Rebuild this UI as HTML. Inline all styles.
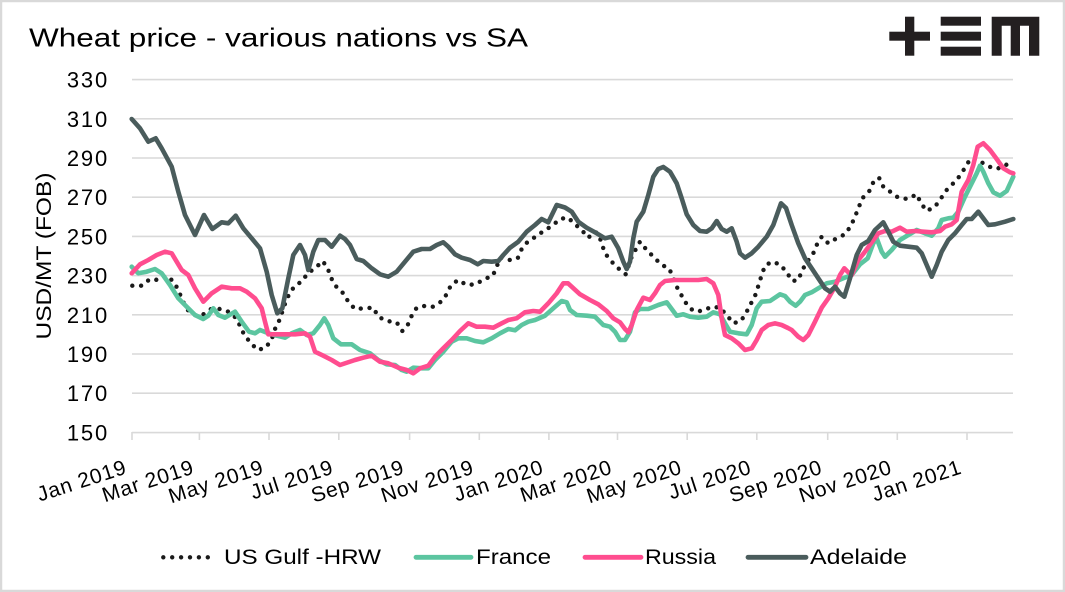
<!DOCTYPE html>
<html>
<head>
<meta charset="utf-8">
<style>
  html, body { margin: 0; padding: 0; background: #fff; }
  svg { display: block; }
  text { font-family: "Liberation Sans", "DejaVu Sans", sans-serif; fill: #000; }
</style>
</head>
<body>
<svg width="1065" height="592" viewBox="0 0 1065 592" xmlns="http://www.w3.org/2000/svg">
  <rect x="1" y="1" width="1063" height="590" fill="#fff" stroke="#d9d9d9" stroke-width="2.5"/>

  <!-- Title -->
  <text x="29" y="46.5" font-size="26" textLength="499" lengthAdjust="spacingAndGlyphs">Wheat price - various nations vs SA</text>

  <!-- Logo -->
  <g fill="#231f20">
    <rect x="905" y="16.7" width="9.3" height="39"/>
    <rect x="889.3" y="31.7" width="40.7" height="9"/>
    <rect x="940.7" y="16.7" width="40.3" height="9"/>
    <rect x="940.7" y="31.7" width="40.3" height="9"/>
    <rect x="940.7" y="46.7" width="40.3" height="9"/>
    <path d="M991.7 16.7 H1039.3 V55.7 H1029 V25.7 H1020 V55.7 H1010.7 V25.7 H1001.7 V55.7 H991.7 Z"/>
  </g>

  <!-- Gridlines -->
  <g stroke="#d9d9d9" stroke-width="1.6">
    <line x1="132" y1="79.6" x2="1013" y2="79.6"/>
    <line x1="132" y1="118.8" x2="1013" y2="118.8"/>
    <line x1="132" y1="158" x2="1013" y2="158"/>
    <line x1="132" y1="197.2" x2="1013" y2="197.2"/>
    <line x1="132" y1="236.4" x2="1013" y2="236.4"/>
    <line x1="132" y1="275.6" x2="1013" y2="275.6"/>
    <line x1="132" y1="314.8" x2="1013" y2="314.8"/>
    <line x1="132" y1="354" x2="1013" y2="354"/>
    <line x1="132" y1="393.2" x2="1013" y2="393.2"/>
    <line x1="132" y1="432.6" x2="1013" y2="432.6"/>
    <!-- ticks -->
    <line x1="132" y1="432" x2="132" y2="440"/>
    <line x1="199.4" y1="432" x2="199.4" y2="440"/>
    <line x1="269" y1="432" x2="269" y2="440"/>
    <line x1="338.8" y1="432" x2="338.8" y2="440"/>
    <line x1="409.6" y1="432" x2="409.6" y2="440"/>
    <line x1="479.3" y1="432" x2="479.3" y2="440"/>
    <line x1="548.9" y1="432" x2="548.9" y2="440"/>
    <line x1="617.5" y1="432" x2="617.5" y2="440"/>
    <line x1="687.2" y1="432" x2="687.2" y2="440"/>
    <line x1="756.8" y1="432" x2="756.8" y2="440"/>
    <line x1="827.7" y1="432" x2="827.7" y2="440"/>
    <line x1="897.3" y1="432" x2="897.3" y2="440"/>
    <line x1="967" y1="432" x2="967" y2="440"/>
  </g>

  <!-- Y labels -->
  <g font-size="22" text-anchor="end" letter-spacing="1.8">
    <text x="109" y="87.6">330</text>
    <text x="109" y="126.8">310</text>
    <text x="109" y="166">290</text>
    <text x="109" y="205.2">270</text>
    <text x="109" y="244.4">250</text>
    <text x="109" y="283.6">230</text>
    <text x="109" y="322.8">210</text>
    <text x="109" y="362">190</text>
    <text x="109" y="401.2">170</text>
    <text x="109" y="440.6">150</text>
  </g>

  <!-- Y axis title -->
  <text transform="translate(51,256) rotate(-90)" x="0" y="0" font-size="21" text-anchor="middle" textLength="167" lengthAdjust="spacingAndGlyphs">USD/MT (FOB)</text>

  <!-- X labels -->
  <g font-size="21" text-anchor="end" letter-spacing="0.8">
    <text x="128" y="473" transform="rotate(-18 128 473)">Jan 2019</text>
    <text x="195.4" y="473" transform="rotate(-18 195.4 473)">Mar 2019</text>
    <text x="265" y="473" transform="rotate(-18 265 473)">May 2019</text>
    <text x="334.8" y="473" transform="rotate(-18 334.8 473)">Jul 2019</text>
    <text x="405.6" y="473" transform="rotate(-18 405.6 473)">Sep 2019</text>
    <text x="475.3" y="473" transform="rotate(-18 475.3 473)">Nov 2019</text>
    <text x="544.9" y="473" transform="rotate(-18 544.9 473)">Jan 2020</text>
    <text x="613.5" y="473" transform="rotate(-18 613.5 473)">Mar 2020</text>
    <text x="683.2" y="473" transform="rotate(-18 683.2 473)">May 2020</text>
    <text x="752.8" y="473" transform="rotate(-18 752.8 473)">Jul 2020</text>
    <text x="823.7" y="473" transform="rotate(-18 823.7 473)">Sep 2020</text>
    <text x="893.3" y="473" transform="rotate(-18 893.3 473)">Nov 2020</text>
    <text x="963" y="473" transform="rotate(-18 963 473)">Jan 2021</text>
  </g>

  <!-- US Gulf HRW (dotted) -->
  <polyline fill="none" stroke="#1a1a1a" stroke-width="4.4" stroke-linecap="round" stroke-linejoin="round" stroke-dasharray="0 8.8"
    points="132.3,285.7 141.7,285.7 150,279 158.3,280 166.7,275.7 174.3,282.3 179,291.7 182.3,300 186.7,309 193.3,315 202.3,315 211,309 220,309 228.3,311.7 235.7,317.7 240,325.7 244.3,335 251,343.3 257.7,350 265.7,347.7 271.7,339.3 275,329 279,321 282.3,311.7 285.7,301.7 290,292.3 295.7,285 301.7,281.7 307.7,273.3 315.7,267.7 322.7,261 327.7,268.3 331,277.7 335.7,286 343.3,293.3 348.3,301.7 355,309 364.3,308.3 373.3,307.7 378.3,316.7 386.7,321 396.7,322.3 402.3,331 407.7,325 411.7,315.7 416.7,307.7 424.3,306 432.3,307 441,301.7 446.7,294.3 451,285 458.3,280 466.7,285 475.7,284.3 484.3,279 492.7,276 496.7,266.7 500,257.7 509.3,260 517.7,258.3 521.7,249 527.7,241.7 535.7,236.7 544,230.7 552.3,225.7 560,219 568,217.5 575,224.3 581.7,230 588.3,237.7 594.3,232 598.3,233.3 605,253.3 611.7,261.7 618.3,268.3 625.7,274.3 631.7,256.7 640,241.7 646.7,250 654.3,257.7 661.7,265 669,268.3 673.3,277.7 676.7,286.7 681.7,295.7 686.7,304.3 693.3,311 702.3,311 711.7,306.7 720,307.7 726.7,315 733.3,323.3 741,321 746.7,311.7 755.7,294.3 761.7,275 765,265.7 771.7,261.7 780,264.3 786.7,272.3 792.3,281 798.3,280 802.3,270 807.7,261 813.3,253.3 816.7,245 821.7,236.7 828.3,243.3 836.7,238.3 845,234.3 851,225.7 855,216.7 862.3,198.3 869,191.7 873.3,182.3 879,177.7 883.3,186.7 891,192.3 898.3,197.7 907.7,199 916.7,194.3 921,203.3 926.7,211 935,206.7 941,198.3 946.7,190 953.3,183.3 960,175.7 965,167.7 970.7,158.3 978.3,160 986.7,165.7 995.7,169 1004.3,166.7 1012.3,159"/>

  <!-- France -->
  <polyline fill="none" stroke="#5cc5a0" stroke-width="4.6" stroke-linecap="round" stroke-linejoin="round"
    points="131.7,266.7 138.3,273.3 146.7,271.7 155,269 161.7,273.3 170,285 178.3,298.3 186.7,306.7 195,315 203.3,319 208.3,315.7 213.3,308.3 218.3,315 225,317.7 235,311.7 241.7,321.7 249,331.7 255,333.3 260,330 268.3,333.3 276.7,335.7 285,337.7 291.7,333.3 300,330 306.7,335 313.3,333.3 320,325 324.3,318.3 328.3,325 333.3,338.3 341,344.3 351.7,344.3 360,350 370,353.3 378.3,360 386.7,364.3 395,365 401.7,370 406.7,371.7 413.3,367.7 421.7,368.3 428.3,368.3 435,360 443.3,351.7 451.7,341.7 458.3,338.3 466.7,338.3 475,341 483.3,342.3 491.7,338.3 500,333.3 508.3,329 515,330.3 521.7,325 528.3,321.7 535,320 545,315.7 553.3,308.3 561.7,301 566.7,302.3 570,310 576.7,315 586.7,315.7 595,316.7 603.3,325 610,326.7 615,331.7 620,340 625,340 630,331.7 635,312.3 640,309 648.3,309 658.3,305 666.7,302.3 671.7,309 676.7,315.7 683.3,314.3 690,316.7 698.3,317.7 706.7,316.7 713.3,312.3 720,314.3 725,323.3 730,331.7 738.3,333.3 746.7,334.3 751.7,325 756.7,308.3 761.7,301.7 770,301 780,294.3 785,296 790,301.7 795.7,305.7 800,301.7 805,295 811.7,292.3 818.3,288.3 826.7,283.3 835,281.7 843.3,278.3 851.7,275 860,264.3 867.7,258.3 873.3,243.3 876.7,238.3 881.7,251.7 885,256.7 891.7,250 900,240 908.3,235 916.7,230 925,233.3 931.7,235.7 938.3,228.3 941.7,220 948.3,218.3 953.3,217.7 958.3,211.7 965,196.7 971.7,183.3 976.7,173.3 980,165.7 983.3,171.7 988.3,183.3 993.3,192.3 1000,195.7 1006.7,191 1013.3,176.7"/>

  <!-- Russia -->
  <polyline fill="none" stroke="#ff4d8f" stroke-width="4.6" stroke-linecap="round" stroke-linejoin="round"
    points="131.7,273.3 140,264.3 148.3,260 156.7,255 165,251.7 171.7,253.3 176.7,261.7 181.7,270 188.3,275 195,288.3 203.3,301.7 211.7,293.3 221.7,286.7 231.7,288.3 240,288.3 246.7,291.7 255,298.3 261.7,308.3 265,321.7 268.3,334.3 275,334.3 285,334.3 295,334.3 305,333.3 310,336.7 315,351.7 323.3,355.7 331.7,360 340,365 346,363 355,360 363.3,357.7 371.7,355.7 380,361.7 388.3,363.3 398.3,367.7 406.7,370 413.3,373.3 420,368.3 428.3,365.7 435,356.7 443.3,348.3 451.7,340 460,331 468.3,323.3 476.7,326.7 485,326.7 493.3,327.7 501.7,323.3 508.3,320 516.7,318.3 525,312.3 533.3,311 540,311.7 548.3,303.3 556.7,293.3 563.3,283.3 568,283.3 571.7,286.7 580,294.3 590,300 598.3,304.3 606.7,311 613.3,318.3 620,322.3 625,329 628.3,332.3 631.7,325 636.7,310 643.3,297.7 650,300 655,293.3 660,285 665,281 675,280 686.7,280 698.3,280 706.7,279 713.3,283.3 718.3,295 721.7,318.3 725,335 731.7,338.3 738.3,343.3 745,350 751.7,348.3 756.7,340 761.7,330 768.3,325 775,323.3 781.7,325 788,328 791.7,330 798.3,336.7 803.3,340 808.3,335 815,321.7 821.7,307.7 828.3,298.3 835,286.7 840,275 844.3,268.3 847.7,271.7 851.7,275 858.3,260 865,251.7 871.7,242.3 878.3,233.3 885,231 891.7,231.7 900,227.7 906.7,231.7 915,231 923.3,231.7 931.7,232.3 940,231 945,226.7 951.7,224.3 956.7,220 961.7,191.7 968.3,180 973.3,165 977.7,146.7 983.3,143.3 990,150 996.7,159 1003.3,168.3 1010,172.3 1013.3,173.3"/>

  <!-- Adelaide -->
  <polyline fill="none" stroke="#4a5c5c" stroke-width="4.6" stroke-linecap="round" stroke-linejoin="round"
    points="131.7,119 140,128.3 148.3,141.7 155.7,138.3 161.7,148.3 171.7,166.7 178.3,191.7 185,215 195,235 204,215 212.3,229 221.7,222.3 228.3,223.3 235.7,215.7 243.3,228.3 251.7,238.3 260,248.3 266.7,271.7 271.7,295 277.3,313.3 282.3,308.3 288.3,278.3 293.3,255 300,245 305,255 308.3,270 313.3,251.7 318.3,240 325,240 331.7,246.7 340,235.7 345,239 350,245 356.7,259 363.3,261 371.7,268.3 380,274.3 388.3,276.7 396.7,271.7 405,261.7 413.3,251.7 421.7,249 430,249 436.7,245 443.3,242.3 448.3,246.7 455,254.3 461.7,257.7 470,260 477.7,264.3 483.3,261 491.7,261.7 498.3,261 503.3,255 510,247.7 518.3,241.7 526.7,231.7 535,225 541.7,219 548.3,222.3 556.7,205 565,207.5 571.7,211.7 578.3,221.7 586.7,227.7 596.7,233.3 605,238.3 611.7,236.7 618.3,248.3 623.3,261.7 626.7,269 630,261.7 633.3,238.3 636.7,221.7 643.3,211.7 648.3,195 653.3,176.7 658.3,169 663.3,167 670,171.7 676.7,183.3 681.7,198.3 686.7,214.3 693.3,225 700,231 706.7,231.7 711.7,228.3 716.7,221 721.7,229 726.7,231.7 731.7,228.3 736.7,241.7 740,253.3 745,257.7 751.7,253.3 758.3,246.7 766.7,236.7 773.3,225 781,203.3 786,208 791.7,225 798.3,243.3 805,258.3 811.7,268.3 818.3,278.3 825,288.3 830,291.7 835,286.7 840,293.3 844.3,296.7 850,278.3 856.7,255 861.7,245 868.3,241 875,230 883.3,222.3 888.3,231.7 893.3,241.7 900,245.7 908.3,246.7 916.7,247.7 921.7,253.3 926.7,265 931.7,276.7 936.7,265 941.7,251.7 948.3,240 955,233.3 961.7,225 966.7,219 971.7,219 978.3,211.7 983.3,218.3 988.3,225 995,224.3 1005,221.7 1013.3,219"/>

  <!-- Legend -->
  <line x1="163.3" y1="557.3" x2="216.7" y2="557.3" stroke="#1a1a1a" stroke-width="4.4" stroke-linecap="round" stroke-dasharray="0 8.9"/>
  <text x="224" y="564" font-size="21" textLength="157" lengthAdjust="spacingAndGlyphs">US Gulf -HRW</text>

  <line x1="416" y1="557.3" x2="471" y2="557.3" stroke="#5cc5a0" stroke-width="4.8" stroke-linecap="round"/>
  <text x="476" y="564" font-size="21" textLength="75" lengthAdjust="spacingAndGlyphs">France</text>

  <line x1="585" y1="557.3" x2="641" y2="557.3" stroke="#ff4d8f" stroke-width="4.8" stroke-linecap="round"/>
  <text x="645" y="564" font-size="21" textLength="71" lengthAdjust="spacingAndGlyphs">Russia</text>

  <line x1="748" y1="557.3" x2="806" y2="557.3" stroke="#4a5c5c" stroke-width="4.8" stroke-linecap="round"/>
  <text x="810" y="564" font-size="21" textLength="97" lengthAdjust="spacingAndGlyphs">Adelaide</text>
</svg>
</body>
</html>
